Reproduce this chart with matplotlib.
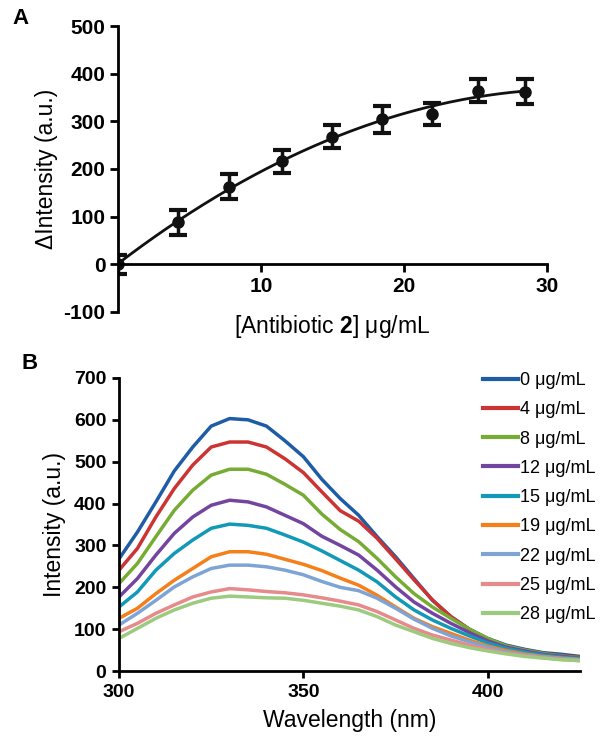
import numpy as np
import matplotlib
matplotlib.use("Agg")
import matplotlib.pyplot as plt

plt.rcParams['font.family'] = ['Liberation Sans', 'DejaVu Sans']
plt.rcParams['mathtext.fontset'] = 'custom'
plt.rcParams['mathtext.rm'] = 'Liberation Sans'
plt.rcParams['mathtext.bf'] = 'Liberation Sans:bold'
plt.rcParams['axes.unicode_minus'] = False

# ---- panel A data ----
conc = [0, 4.2, 7.8, 11.5, 15.0, 18.5, 22.0, 25.2, 28.5]
d_int = [0, 88, 163, 216, 268, 304, 315, 364, 362]
d_err = [20, 26, 27, 24, 25, 29, 23, 24, 26]

# ---- panel B data ----
wl = [300, 305, 310, 315, 320, 325, 330, 335, 340, 345, 350, 355, 360,
      365, 370, 375, 380, 385, 390, 395, 400, 405, 410, 415, 420, 425]
labels = ['0 μg/mL', '4 μg/mL', '8 μg/mL', '12 μg/mL', '15 μg/mL',
          '19 μg/mL', '22 μg/mL', '25 μg/mL', '28 μg/mL']
s0 = [268, 332, 404, 478, 535, 585, 603, 600, 585, 550, 512, 458, 412,
      372, 321, 273, 221, 169, 130, 100, 78, 62, 52, 44, 40, 35]
s4 = [241, 293, 368, 436, 492, 535, 547, 547, 535, 507, 474, 428, 383,
      358, 317, 268, 218, 170, 130, 100, 76, 60, 50, 42, 37, 33]
s8 = [209, 257, 321, 384, 432, 468, 482, 482, 470, 446, 420, 375, 338,
      309, 269, 225, 185, 153, 126, 100, 78, 60, 50, 42, 36, 32]
s12 = [177, 221, 277, 329, 368, 396, 408, 404, 392, 372, 352, 322, 300,
       277, 241, 201, 165, 138, 114, 92, 72, 57, 48, 40, 35, 31]
s15 = [153, 189, 241, 281, 313, 341, 351, 348, 341, 325, 308, 287, 264,
       241, 213, 177, 146, 122, 102, 84, 67, 54, 45, 38, 33, 30]
s19 = [126, 150, 185, 217, 245, 273, 285, 285, 279, 267, 255, 240, 222,
       205, 181, 153, 126, 106, 90, 74, 60, 49, 41, 35, 31, 28]
s22 = [110, 138, 169, 201, 225, 245, 253, 253, 249, 241, 230, 214, 200,
       192, 174, 150, 124, 102, 84, 70, 57, 46, 39, 34, 30, 27]
s25 = [94, 114, 138, 158, 177, 189, 197, 194, 190, 187, 182, 175, 167,
       158, 142, 122, 102, 86, 74, 62, 52, 43, 37, 32, 28, 25]
s28 = [78, 102, 126, 146, 162, 174, 179, 177, 175, 174, 169, 162, 155,
       146, 130, 110, 94, 78, 66, 56, 48, 41, 35, 31, 27, 25]
spectra = [s0, s4, s8, s12, s15, s19, s22, s25, s28]
colors = ['#1E5DA6', '#CC3333', '#77AC34', '#7445A0', '#1399B8',
          '#F57F1A', '#7EA4D6', '#E68A8C', '#9CCB80']

fig = plt.figure(figsize=(6.01, 7.44), dpi=100)

# ---------- A ----------
axA = fig.add_axes([0.196, 0.581, 0.714, 0.384])
coef = np.polyfit(conc, d_int, 2)
xf = np.linspace(0, max(conc), 200)
axA.plot(xf, np.polyval(coef, xf), color='#111111', lw=2)
axA.errorbar(conc, d_int, yerr=d_err, fmt='o', color='#111111', ms=8,
             elinewidth=2.5, capsize=6.5, capthick=3)
axA.set_xlim(0, 30)
axA.set_ylim(-100, 500)
axA.spines['top'].set_visible(False)
axA.spines['right'].set_visible(False)
axA.spines['bottom'].set_position(('data', 0))
for s in ['left', 'bottom']:
    axA.spines[s].set_linewidth(2)
axA.set_xticks([10, 20, 30])
axA.set_yticks([-100, 0, 100, 200, 300, 400, 500])
axA.tick_params(width=2, length=6, labelsize=15, pad=3)
for t in axA.get_xticklabels() + axA.get_yticklabels():
    t.set_fontweight('bold')
axA.set_ylabel('ΔIntensity (a.u.)', fontsize=16.5, labelpad=4)
axA.text(0.5, -0.05, r'[Antibiotic $\mathbf{2}$] μg/mL', transform=axA.transAxes,
         ha='center', va='center', fontsize=16.5)
fig.text(0.02, 0.975, 'A', fontsize=16, fontweight='bold', va='center')

# ---------- B ----------
axB = fig.add_axes([0.198, 0.098, 0.767, 0.394])
for s, c, lab in zip(spectra, colors, labels):
    axB.plot(wl, s, color=c, lw=2.5, label=lab)
axB.set_xlim(300, 425)
axB.set_ylim(0, 700)
axB.spines['top'].set_visible(False)
axB.spines['right'].set_visible(False)
for s in ['left', 'bottom']:
    axB.spines[s].set_linewidth(2)
axB.set_xticks([300, 350, 400])
axB.set_yticks(range(0, 701, 100))
axB.tick_params(width=2, length=5, labelsize=14, pad=4)
for t in axB.get_xticklabels() + axB.get_yticklabels():
    t.set_fontweight('bold')
axB.set_xlabel('Wavelength (nm)', fontsize=16.5, labelpad=6)
axB.set_ylabel('Intensity (a.u.)', fontsize=16.5, labelpad=6)
leg = axB.legend(loc='upper left', bbox_to_anchor=(0.775, 1.045), frameon=False,
                 fontsize=13, handlelength=1.9, handletextpad=0.1,
                 labelspacing=0.68, borderaxespad=0)
for h in leg.get_lines():
    h.set_linewidth(3)
fig.text(0.035, 0.512, 'B', fontsize=16, fontweight='bold', va='center')

fig.savefig('out.png', dpi=100)
